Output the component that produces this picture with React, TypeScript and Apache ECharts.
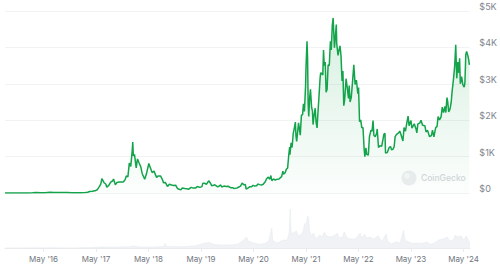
import React, { useEffect, useRef } from "react";
import * as echarts from "echarts";

// ETH price (USD), [date, price]
const price2015: [string, number][] = [
  ["2015-08-07", 2.8], ["2015-08-20", 1.3], ["2015-09-15", 0.9], ["2015-10-20", 0.5], ["2015-11-20", 0.9], ["2015-12-20", 0.9],
];
const price2016: [string, number][] = [
  ["2016-01-20", 1.5], ["2016-02-15", 4], ["2016-03-13", 15], ["2016-04-10", 8], ["2016-05-10", 10], ["2016-06-17", 20],
  ["2016-07-10", 11], ["2016-08-10", 11], ["2016-09-15", 13], ["2016-10-15", 12], ["2016-11-15", 10], ["2016-12-20", 7.5],
];
const price2017: [string, number][] = [
  ["2017-01-15", 10], ["2017-02-15", 13], ["2017-03-05", 19], ["2017-03-18", 40], ["2017-04-05", 48], ["2017-04-25", 60],
  ["2017-05-10", 88], ["2017-05-25", 175], ["2017-06-04", 245], ["2017-06-12", 395], ["2017-06-26", 290], ["2017-07-10", 240],
  ["2017-07-16", 160], ["2017-07-30", 210], ["2017-08-12", 300], ["2017-08-25", 330], ["2017-09-01", 385], ["2017-09-14", 225],
  ["2017-09-25", 290], ["2017-10-10", 300], ["2017-10-25", 300], ["2017-11-08", 300], ["2017-11-20", 360], ["2017-11-29", 470],
  ["2017-12-10", 440], ["2017-12-20", 820], ["2017-12-30", 730],
];
const price2018: [string, number][] = [
  ["2018-01-09", 1150], ["2018-01-13", 1400], ["2018-01-17", 1020], ["2018-01-25", 1060], ["2018-02-06", 690], ["2018-02-15", 935],
  ["2018-02-25", 840], ["2018-03-10", 720], ["2018-03-20", 530], ["2018-04-06", 380], ["2018-04-18", 520], ["2018-05-05", 810],
  ["2018-05-15", 700], ["2018-05-28", 560], ["2018-06-10", 600], ["2018-06-28", 430], ["2018-07-10", 470], ["2018-07-25", 470],
  ["2018-08-08", 370], ["2018-08-15", 280], ["2018-08-28", 290], ["2018-09-12", 180], ["2018-09-25", 240], ["2018-10-10", 220],
  ["2018-10-25", 205], ["2018-11-08", 215], ["2018-11-20", 130], ["2018-11-28", 110], ["2018-12-14", 85], ["2018-12-24", 140],
];
const price2019: [string, number][] = [
  ["2019-01-10", 125], ["2019-01-25", 115], ["2019-02-07", 105], ["2019-02-24", 155], ["2019-03-10", 135], ["2019-03-28", 140],
  ["2019-04-08", 180], ["2019-04-25", 155], ["2019-05-10", 175], ["2019-05-16", 265], ["2019-05-30", 265], ["2019-06-10", 240],
  ["2019-06-26", 335], ["2019-07-05", 290], ["2019-07-17", 200], ["2019-07-30", 215], ["2019-08-07", 225], ["2019-08-28", 170],
  ["2019-09-18", 220], ["2019-09-25", 165], ["2019-10-10", 190], ["2019-10-26", 180], ["2019-11-08", 185], ["2019-11-25", 145],
  ["2019-12-10", 145], ["2019-12-18", 125], ["2019-12-30", 132],
];
const price2020: [string, number][] = [
  ["2020-01-10", 140], ["2020-01-22", 165], ["2020-02-03", 190], ["2020-02-14", 275], ["2020-02-25", 225], ["2020-03-07", 235],
  ["2020-03-13", 110], ["2020-03-25", 135], ["2020-04-06", 170], ["2020-04-20", 170], ["2020-04-30", 210], ["2020-05-12", 190],
  ["2020-05-25", 200], ["2020-06-02", 245], ["2020-06-15", 230], ["2020-06-27", 220], ["2020-07-10", 240], ["2020-07-25", 315],
  ["2020-08-02", 390], ["2020-08-14", 435], ["2020-08-25", 380], ["2020-09-01", 480], ["2020-09-08", 340], ["2020-09-20", 385],
  ["2020-10-01", 355], ["2020-10-15", 380], ["2020-10-28", 385], ["2020-11-05", 415], ["2020-11-15", 450], ["2020-11-24", 600],
  ["2020-11-28", 520], ["2020-12-10", 560], ["2020-12-18", 650], ["2020-12-27", 690],
];
const price2021: [string, number][] = [
  ["2021-01-04", 1050], ["2021-01-10", 1260], ["2021-01-12", 1050], ["2021-01-20", 1380], ["2021-01-27", 1250], ["2021-02-04", 1640],
  ["2021-02-10", 1750], ["2021-02-19", 1950], ["2021-02-23", 1570], ["2021-02-28", 1420], ["2021-03-06", 1650], ["2021-03-13", 1930],
  ["2021-03-25", 1590], ["2021-04-02", 2140], ["2021-04-10", 2150], ["2021-04-16", 2450], ["2021-04-23", 2240], ["2021-05-01", 2950],
  ["2021-05-04", 3450], ["2021-05-11", 4170], ["2021-05-15", 3700], ["2021-05-19", 2450], ["2021-05-23", 2100], ["2021-05-30", 2650],
  ["2021-06-04", 2850], ["2021-06-12", 2350], ["2021-06-18", 2250], ["2021-06-22", 1880], ["2021-06-28", 2100], ["2021-07-07", 2330],
  ["2021-07-13", 1950], ["2021-07-20", 1790], ["2021-07-26", 2200], ["2021-08-01", 2560], ["2021-08-10", 3150], ["2021-08-14", 3300],
  ["2021-08-20", 3290], ["2021-08-29", 3240], ["2021-09-03", 3930], ["2021-09-08", 3500], ["2021-09-15", 3600], ["2021-09-21", 2770],
  ["2021-09-28", 2850], ["2021-10-05", 3520], ["2021-10-13", 3500], ["2021-10-21", 4170], ["2021-10-27", 3930], ["2021-11-03", 4600],
  ["2021-11-09", 4810], ["2021-11-18", 3990], ["2021-11-24", 4270], ["2021-12-01", 4630], ["2021-12-04", 4100], ["2021-12-13", 3780],
  ["2021-12-20", 3930], ["2021-12-27", 4040],
];
const price2022: [string, number][] = [
  ["2022-01-03", 3760], ["2022-01-10", 3080], ["2022-01-16", 3350], ["2022-01-22", 2400], ["2022-01-28", 2550], ["2022-02-07", 3140],
  ["2022-02-14", 2940], ["2022-02-24", 2600], ["2022-03-01", 2950], ["2022-03-07", 2500], ["2022-03-15", 2620], ["2022-03-25", 3100],
  ["2022-04-02", 3520], ["2022-04-11", 2980], ["2022-04-20", 3100], ["2022-04-30", 2730], ["2022-05-05", 2900], ["2022-05-12", 1960],
  ["2022-05-20", 2010], ["2022-05-28", 1790], ["2022-06-05", 1800], ["2022-06-13", 1200], ["2022-06-18", 1000], ["2022-06-25", 1240],
  ["2022-07-01", 1060], ["2022-07-12", 1040], ["2022-07-20", 1550], ["2022-07-30", 1720], ["2022-08-07", 1700], ["2022-08-14", 1990],
  ["2022-08-20", 1580], ["2022-08-29", 1550], ["2022-09-08", 1640], ["2022-09-12", 1760], ["2022-09-21", 1250], ["2022-10-01", 1300],
  ["2022-10-13", 1280], ["2022-10-29", 1620], ["2022-11-05", 1640], ["2022-11-09", 1100], ["2022-11-21", 1110], ["2022-12-05", 1260],
  ["2022-12-15", 1270], ["2022-12-20", 1190], ["2022-12-30", 1200],
];
const price2023: [string, number][] = [
  ["2023-01-08", 1270], ["2023-01-15", 1550], ["2023-01-25", 1610], ["2023-02-08", 1650], ["2023-02-16", 1700], ["2023-02-25", 1600],
  ["2023-03-10", 1430], ["2023-03-18", 1800], ["2023-03-28", 1700], ["2023-04-05", 1900], ["2023-04-15", 2110], ["2023-04-22", 1850],
  ["2023-05-05", 1990], ["2023-05-12", 1780], ["2023-05-28", 1900], ["2023-06-10", 1750], ["2023-06-15", 1650], ["2023-06-22", 1900],
  ["2023-07-05", 1920], ["2023-07-14", 2000], ["2023-07-25", 1860], ["2023-08-10", 1850], ["2023-08-18", 1680], ["2023-08-29", 1720],
  ["2023-09-11", 1550], ["2023-09-25", 1580], ["2023-10-02", 1730], ["2023-10-12", 1540], ["2023-10-24", 1790], ["2023-11-03", 1830],
  ["2023-11-10", 2100], ["2023-11-20", 2010], ["2023-12-01", 2090], ["2023-12-09", 2360], ["2023-12-18", 2210], ["2023-12-28", 2380],
];
const price2024: [string, number][] = [
  ["2024-01-03", 2210], ["2024-01-11", 2620], ["2024-01-16", 2520], ["2024-01-23", 2230], ["2024-02-01", 2300], ["2024-02-09", 2480],
  ["2024-02-16", 2800], ["2024-02-26", 3150], ["2024-03-05", 3500], ["2024-03-12", 4070], ["2024-03-19", 3150], ["2024-03-27", 3600],
  ["2024-04-03", 3300], ["2024-04-08", 3700], ["2024-04-13", 3000], ["2024-04-22", 3200], ["2024-05-01", 2970], ["2024-05-10", 2910],
  ["2024-05-15", 3030], ["2024-05-21", 3800], ["2024-05-27", 3890], ["2024-06-04", 3780], ["2024-06-10", 3670], ["2024-06-15", 3520],
];

// Trading volume (billions USD), [date, volume]
const volume: [string, number][] = [
  ["2015-08-07", 0.1], ["2016-03-01", 0.3], ["2016-06-17", 0.5], ["2016-12-01", 0.2], ["2017-03-20", 0.8], ["2017-06-12", 2],
  ["2017-09-01", 1.5], ["2017-12-20", 2.5], ["2018-01-13", 4], ["2018-03-01", 2], ["2018-06-01", 2], ["2018-08-15", 3],
  ["2018-08-25", 9], ["2018-09-05", 3], ["2018-12-01", 2.5], ["2019-02-01", 3], ["2019-04-01", 5], ["2019-05-15", 9],
  ["2019-06-26", 11], ["2019-08-01", 7], ["2019-10-01", 6], ["2019-12-01", 6], ["2020-01-15", 8], ["2020-02-15", 14],
  ["2020-03-13", 22], ["2020-03-25", 14], ["2020-05-01", 10], ["2020-06-15", 7], ["2020-07-25", 10], ["2020-08-15", 14],
  ["2020-09-05", 40], ["2020-09-12", 14], ["2020-10-15", 10], ["2020-11-25", 16], ["2020-12-20", 15], ["2021-01-04", 30],
  ["2021-01-11", 78], ["2021-01-18", 30], ["2021-02-05", 30], ["2021-02-22", 34], ["2021-03-10", 24], ["2021-03-25", 26],
  ["2021-04-10", 32], ["2021-04-20", 48], ["2021-05-05", 50], ["2021-05-12", 64], ["2021-05-19", 60], ["2021-05-26", 34],
  ["2021-06-10", 24], ["2021-06-22", 30], ["2021-07-10", 18], ["2021-08-05", 26], ["2021-08-20", 22], ["2021-09-07", 32],
  ["2021-09-20", 24], ["2021-10-10", 22], ["2021-11-10", 24], ["2021-12-04", 30], ["2021-12-20", 20], ["2022-01-10", 22],
  ["2022-01-22", 32], ["2022-02-10", 20], ["2022-03-10", 18], ["2022-04-10", 18], ["2022-05-12", 30], ["2022-05-25", 20],
  ["2022-06-14", 28], ["2022-06-25", 20], ["2022-07-20", 22], ["2022-08-15", 18], ["2022-09-15", 24], ["2022-10-10", 12],
  ["2022-11-09", 28], ["2022-11-20", 14], ["2022-12-15", 8], ["2023-01-15", 12], ["2023-02-15", 10], ["2023-03-11", 36],
  ["2023-03-20", 16], ["2023-04-15", 12], ["2023-05-15", 9], ["2023-06-15", 10], ["2023-07-15", 9], ["2023-08-18", 12],
  ["2023-09-15", 7], ["2023-10-24", 12], ["2023-11-10", 16], ["2023-12-10", 18], ["2024-01-11", 22], ["2024-01-25", 14],
  ["2024-02-20", 16], ["2024-03-05", 26], ["2024-03-15", 22], ["2024-04-13", 24], ["2024-05-01", 16], ["2024-05-21", 24],
  ["2024-06-05", 14], ["2024-06-15", 12],
];

const tickDates = ["2016-05-01", "2017-05-01", "2018-05-01", "2019-05-01", "2020-05-01", "2021-05-01", "2022-05-01", "2023-05-01", "2024-05-01"];
const priceTicks = [0, 1000, 2000, 3000, 4000, 5000];
const MONTHS = ["Jan", "Feb", "Mar", "Apr", "May", "Jun", "Jul", "Aug", "Sep", "Oct", "Nov", "Dec"];

const ts = (s: string) => {
  const [y, m, d] = s.split("-").map(Number);
  return Date.UTC(y, m - 1, d);
};

export default function App() {
  const ref = useRef<HTMLDivElement>(null);
  useEffect(() => {
    if (!ref.current) return;
    const chart = echarts.init(ref.current, undefined, { renderer: "svg" });
    const prices = [...price2015, ...price2016, ...price2017, ...price2018, ...price2019, ...price2020, ...price2021, ...price2022, ...price2023, ...price2024]
      .map(([d, v]) => [ts(d), v]);
    const vols = volume.map(([d, v]) => [ts(d), v]);
    const xMin = ts("2015-08-07");
    const xMax = ts("2024-06-15");
    const tickVals = tickDates.map(ts);
    const fmtDate = (v: number) => {
      const dt = new Date(v);
      return `${MONTHS[dt.getUTCMonth()]} '${String(dt.getUTCFullYear()).slice(2)}`;
    };
    const font = "Inter, 'Noto Sans', sans-serif";
    chart.setOption({
      animation: false,
      grid: [
        { left: 5, right: 30, top: 11, height: 182 },
        { left: 5, right: 30, top: 205, height: 43 },
      ],
      xAxis: [
        {
          type: "value", gridIndex: 0, min: xMin, max: xMax,
          axisLine: { show: false }, axisTick: { show: false }, axisLabel: { show: false }, splitLine: { show: false },
        },
        {
          type: "value", gridIndex: 1, min: xMin, max: xMax,
          axisLine: { show: true, lineStyle: { color: "#e9ebee", width: 1 } },
          axisTick: { show: true, customValues: tickVals, length: 4, lineStyle: { color: "#e9ebee" } },
          axisLabel: {
            show: true, customValues: tickVals, formatter: (v: number) => fmtDate(v),
            color: "#70757d", fontSize: 8, fontFamily: font, margin: 7,
          },
          splitLine: { show: false },
        },
      ],
      yAxis: [
        {
          type: "value", gridIndex: 0, position: "right", min: 0, max: 5000,
          axisLine: { show: false }, axisTick: { show: false },
          axisLabel: {
            customValues: priceTicks,
            formatter: (v: number) => (v === 0 ? "$0" : `$${v / 1000}K`),
            color: "#80858d", fontSize: 9, fontFamily: font, margin: 10,
            verticalAlign: "bottom", lineHeight: 9,
          },
          splitLine: { show: true, lineStyle: { color: "#f1f2f4", width: 1 } },
        },
        {
          type: "value", gridIndex: 1, min: 0, max: 86, show: false, splitLine: { show: false },
        },
      ],
      graphic: [
        { type: "circle", shape: { cx: 409, cy: 178, r: 7.5 }, style: { fill: "#eceef0" }, z: 0 },
        { type: "circle", shape: { cx: 407, cy: 176, r: 3 }, style: { fill: "#f7f8f9" }, z: 0 },
        {
          type: "text", x: 421, y: 178, z: 0,
          style: { text: "CoinGecko", fill: "#d3d6da", fontSize: 8.5, fontWeight: 500, fontFamily: font, verticalAlign: "middle" },
        },
      ],
      series: [
        {
          type: "line", xAxisIndex: 1, yAxisIndex: 1, data: vols, showSymbol: false, symbol: "none",
          lineStyle: { color: "#e8ecf0", width: 0.6 },
          areaStyle: { color: "#f0f2f5", opacity: 1 },
          z: 1,
        },
        {
          type: "line", xAxisIndex: 0, yAxisIndex: 0, data: prices, showSymbol: false, symbol: "none",
          lineStyle: { color: "#13a34b", width: 1.5 },
          areaStyle: {
            color: new echarts.graphic.LinearGradient(0, 0, 0, 1, [
              { offset: 0, color: "rgba(19,163,75,0.24)" },
              { offset: 1, color: "rgba(19,163,75,0.02)" },
            ]),
          },
          z: 3,
        },
      ],
    });
    return () => chart.dispose();
  }, []);
  return <div ref={ref} style={{ width: 500, height: 267, position: "absolute", left: 0, top: 0 }} />;
}
